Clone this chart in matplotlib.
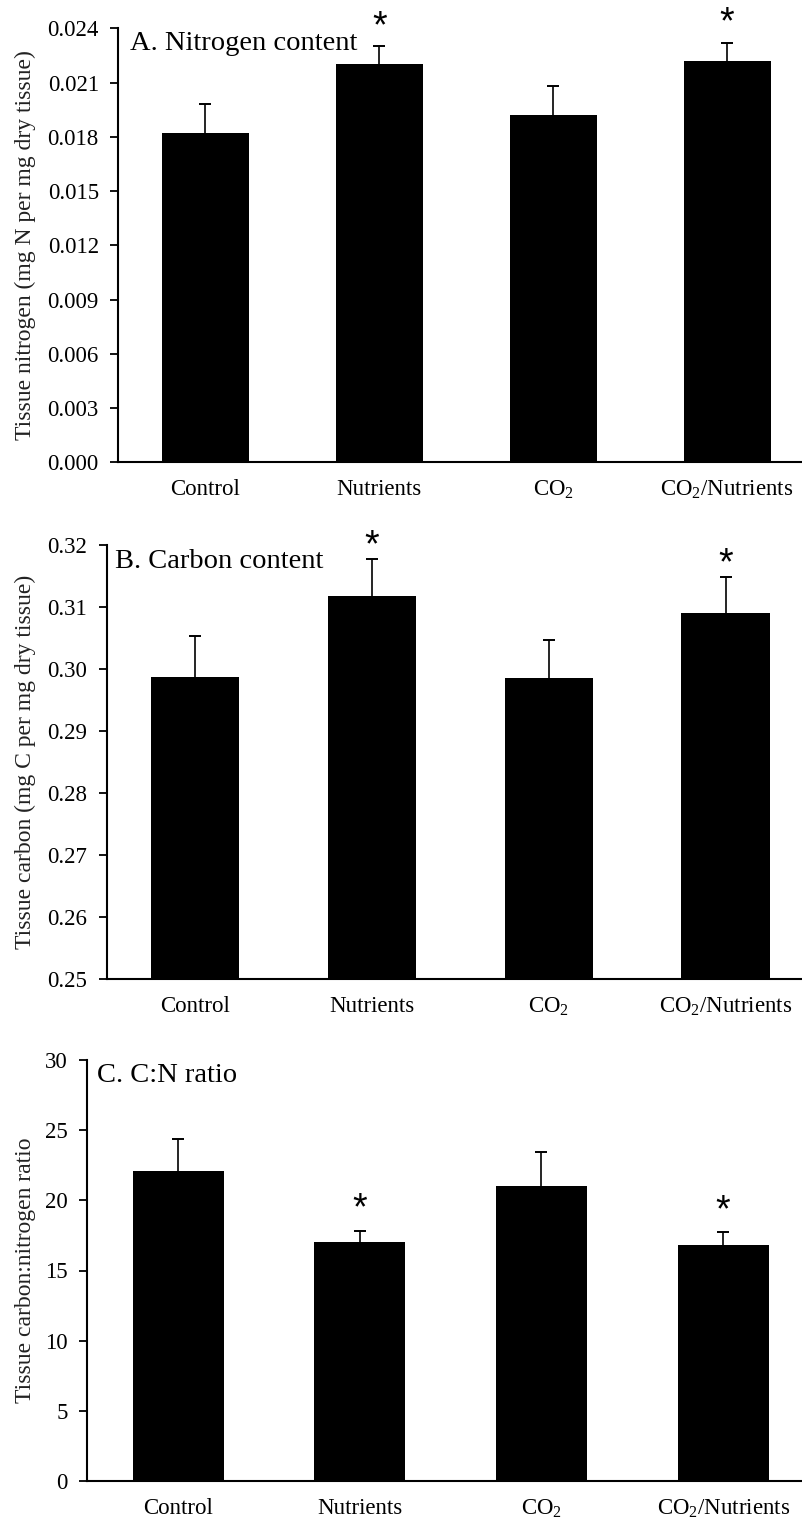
import numpy as np
import matplotlib
matplotlib.use("Agg")
import matplotlib.pyplot as plt
from matplotlib.ticker import FormatStrFormatter

plt.rcParams['font.family'] = ['Liberation Serif', 'DejaVu Serif']
plt.rcParams['mathtext.fontset'] = 'custom'
plt.rcParams['mathtext.rm'] = 'Liberation Serif'
plt.rcParams['mathtext.it'] = 'Liberation Serif'

# Data
categories = ['Control', 'Nutrients', r'CO$_2$', r'CO$_2$/Nutrients']

nitrogen = [0.0182, 0.0220, 0.0192, 0.0222]
nitrogen_err = [0.0016, 0.0010, 0.0016, 0.0010]

carbon = [0.2988, 0.3117, 0.2986, 0.3091]
carbon_err = [0.0065, 0.0060, 0.0061, 0.0057]

cn_ratio = [22.1, 17.0, 21.0, 16.8]
cn_ratio_err = [2.3, 0.85, 2.45, 0.95]

significant = [False, True, False, True]

W, H = 803, 1538
fig = plt.figure(figsize=(W / 100, H / 100), dpi=100)


def make_axes(left, top, bottom, right=814):
    return fig.add_axes([left / W, 1 - bottom / H, (right - left) / W, (bottom - top) / H])


panels = [
    dict(box=(118.3, 28.3, 462.3), vals=nitrogen, err=nitrogen_err,
         ylim=(0, 0.024), ticks=np.arange(0, 0.0241, 0.003), fmt='%.3f',
         title='A. Nitrogen content', tpos=(0.017, 0.95),
         ylabel='Tissue nitrogen (mg N per mg dry tissue)', lx=-0.134, star=14),
    dict(box=(106.7, 545, 979.3), vals=carbon, err=carbon_err,
         ylim=(0.25, 0.32), ticks=np.arange(0.25, 0.3201, 0.01), fmt='%.2f',
         title='B. Carbon content', tpos=(0.012, 0.946),
         ylabel='Tissue carbon (mg C per mg dry tissue)', lx=-0.1155, star=9),
    dict(box=(87.3, 1060, 1481), vals=cn_ratio, err=cn_ratio_err,
         ylim=(0, 30), ticks=np.arange(0, 31, 5), fmt='%d',
         title='C. C:N ratio', tpos=(0.013, 0.948),
         ylabel='Tissue carbon:nitrogen ratio', lx=-0.0857, star=15),
]

x = np.arange(len(categories))
for p in panels:
    ax = make_axes(*p['box'])
    base = p['ylim'][0]
    vals = np.array(p['vals'])
    tops = vals + np.array(p['err'])
    ax.bar(x, vals - base, bottom=base, width=0.5, color='black', zorder=2)
    # upper error bars only
    ax.vlines(x, vals, tops, colors='black', linewidth=1.2, zorder=1)
    ax.plot(x, tops, linestyle='none', marker='_', markersize=8,
            markeredgewidth=1.4, color='black', zorder=1)
    for xi, t, s in zip(x, tops, significant):
        if s:
            ax.annotate('*', (xi, t), xytext=(0, p['star']), textcoords='offset points',
                        ha='center', va='center', fontsize=27, family='Liberation Sans',
                        annotation_clip=False)
    ax.set_xlim(-0.5, 3.5)
    ax.set_ylim(*p['ylim'])
    ax.set_yticks(p['ticks'])
    ax.yaxis.set_major_formatter(FormatStrFormatter(p['fmt']))
    ax.set_xticks(x)
    ax.set_xticklabels(categories)
    ax.tick_params(axis='x', length=0, pad=12, labelsize=16.5)
    ax.tick_params(axis='y', direction='out', length=6, width=1.3, pad=8, labelsize=16.5)
    for side in ['top', 'right']:
        ax.spines[side].set_visible(False)
    ax.spines['left'].set_linewidth(1.5)
    ax.spines['bottom'].set_linewidth(1.5)
    ax.set_ylabel(p['ylabel'], fontsize=17, color='#222222')
    ax.yaxis.set_label_coords(p['lx'], 0.5)
    ax.yaxis.label.set_va('center')
    ax.text(p['tpos'][0], p['tpos'][1], p['title'], transform=ax.transAxes,
            fontsize=20.5, ha='left', va='baseline')

fig.savefig('out.png', dpi=100)
